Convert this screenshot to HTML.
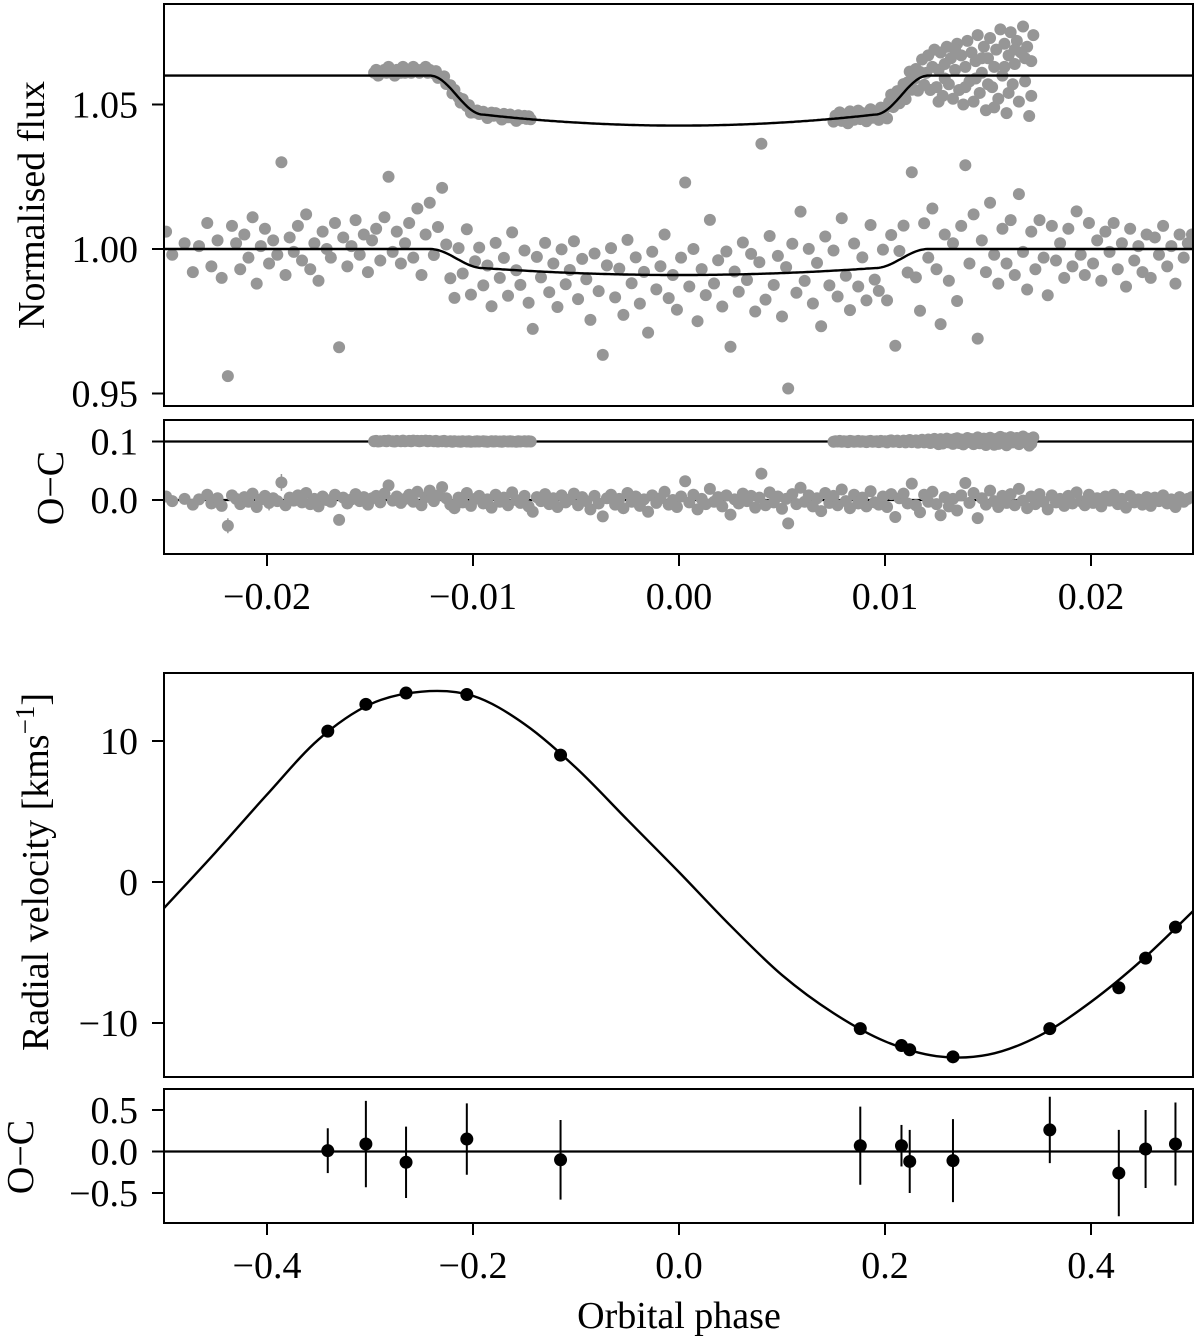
<!DOCTYPE html>
<html><head><meta charset="utf-8"><style>
html,body{margin:0;padding:0;background:#fff;}
svg{display:block;font-family:"Liberation Serif",serif;}
</style></head><body>
<svg id="fig" width="1200" height="1344" viewBox="0 0 1200 1344" xmlns="http://www.w3.org/2000/svg">
<defs>
<clipPath id="cA"><rect x="164" y="4" width="1029" height="402"/></clipPath>
<clipPath id="cB"><rect x="164" y="420" width="1029" height="134"/></clipPath>
<clipPath id="cC"><rect x="164" y="673" width="1029" height="404"/></clipPath>
<clipPath id="cD"><rect x="164" y="1089" width="1029" height="134"/></clipPath>
</defs>
<g id="gA" clip-path="url(#cA)"></g>
<g id="gB" clip-path="url(#cB)"></g>
<g id="gC" clip-path="url(#cC)"></g>
<g id="gD" clip-path="url(#cD)"></g>
<g id="axes"></g>
<text transform="translate(44,205) rotate(-90)" text-anchor="middle" font-size="38">Normalised flux</text>
<text transform="translate(63,488) rotate(-90)" text-anchor="middle" font-size="38">O−C</text>
<text transform="translate(48,872) rotate(-90)" text-anchor="middle" font-size="38">Radial velocity [kms<tspan dy="-14" font-size="27">−1</tspan><tspan dy="14">]</tspan></text>
<text transform="translate(33,1157) rotate(-90)" text-anchor="middle" font-size="38">O−C</text>
<text x="679" y="1328" text-anchor="middle" font-size="38">Orbital phase</text>
</svg>
<script>
const hiSeg1 = [[-148,1],[-147,2],[-146,0],[-145,1],[-143,2],[-142,1],[-141,3],[-139,1],[-138,0],[-137,2],[-135,1],[-134,3],[-133,1],[-131,2],[-130,1],[-129,3],[-127,2],[-126,1],[-125,2],[-123,3],[-122,1],[-121,2],[-119,1],[-118,2],[-117,0],[-115,1],[-114,2],[-113,0],[-111,1],[-110,-1],[-109,1],[-107,0],[-106,-1],[-105,1],[-103,0],[-102,1],[-101,-1],[-99,0],[-98,1],[-97,0],[-95,1],[-94,0],[-93,-1],[-91,1],[-90,0],[-89,1],[-87,0],[-86,-1],[-85,1],[-83,0],[-82,1],[-81,0],[-79,-1],[-78,1],[-77,0],[-75,1],[-74,0],[-73,1],[-72,0]];
const hiSeg2 = [[75,-1],[76,1],[77,0],[78,2],[79,-1],[80,1],[81,0],[82,-2],[83,2],[84,1],[85,-1],[86,0],[87,2],[88,-1],[89,1],[90,0],[91,-2],[92,1],[93,2],[94,-1],[95,0],[96,1],[97,-2],[98,2],[99,0],[100,1],[101,-3],[102,2],[103,4],[104,-1],[105,1],[106,3],[107,-2],[108,0],[109,3],[110,-3],[111,2],[112,5],[113,-2],[114,1],[115,4],[116,-4],[117,2],[118,6],[119,-3],[120,1],[121,7],[122,-5],[123,3],[124,9],[125,-4],[126,2],[127,8],[128,-7],[129,4],[130,10],[131,-3],[132,6],[133,-8],[134,2],[135,11],[136,-5],[137,7],[138,-10],[139,3],[140,12],[141,-2],[142,8],[143,-9],[144,5],[145,14],[146,-6],[147,1],[148,10],[149,-12],[150,6],[151,13],[152,-4],[153,3],[154,9],[155,-8],[156,16],[157,0],[158,11],[159,-13],[160,7],[161,15],[162,-3],[163,4],[164,12],[165,-9],[166,8],[167,17],[168,-2],[169,10],[170,-14],[171,5],[172,14],[158,3],[144,-1],[134,9],[126,-9],[139,-4],[147,6],[153,-11],[163,9],[168,6],[171,-7],[129,-1],[150,-3],[160,-6]];
const loPoints = [[-249,6,4],[-246,-2,3],[-240,2,5],[-236,-8,3],[-233,1,4],[-229,9,6],[-227,-6,3],[-224,3,4],[-222,-10,5],[-219,-44,8],[-217,8,4],[-215,2,5],[-213,-7,3],[-211,5,4],[-209,-3,6],[-207,11,4],[-205,-12,3],[-203,1,5],[-201,7,4],[-199,-5,8],[-197,3,4],[-195,-2,6],[-193,30,9],[-191,-9,5],[-189,4,3],[-187,-1,4],[-185,8,5],[-183,-4,3],[-181,12,4],[-179,-7,6],[-177,2,3],[-175,-11,4],[-173,6,5],[-171,0,3],[-169,-3,4],[-167,9,5],[-165,-34,4],[-163,4,3],[-161,-6,5],[-159,1,4],[-157,10,6],[-155,-2,4],[-153,5,3],[-151,-8,5],[-149,3,4],[-147,7,3],[-145,-4,5],[-143,11,4],[-141,25,6],[-139,-1,4],[-137,6,5],[-135,-5,3],[-133,2,4],[-131,9,5],[-129,-3,3],[-127,14,6],[-125,-9,4],[-123,5,3],[-121,16,5],[-119,-2,4],[-117,8,3],[-115,22,5],[-113,3,4],[-111,-8,6],[-109,-14,4],[-107,4,5],[-105,-4,3],[-103,12,4],[-101,-10,5],[-99,2,3],[-97,7,4],[-95,-6,5],[-93,1,3],[-91,-13,4],[-89,9,5],[-87,-3,6],[-85,4,3],[-83,-9,4],[-81,13,5],[-79,0,3],[-77,-5,4],[-75,7,5],[-73,-11,3],[-71,-20,4],[-69,5,5],[-67,-2,3],[-65,10,4],[-63,-7,5],[-61,3,6],[-59,-12,4],[-57,8,3],[-55,-4,4],[-53,1,5],[-51,11,3],[-49,-9,4],[-47,5,5],[-45,-2,3],[-43,-16,4],[-41,7,5],[-39,-6,6],[-37,-28,4],[-35,3,3],[-33,9,5],[-31,-8,4],[-29,2,3],[-27,-14,5],[-25,12,4],[-23,-3,3],[-21,6,5],[-19,-10,4],[-17,1,3],[-15,-20,6],[-13,8,4],[-11,-5,5],[-9,3,3],[-7,14,4],[-5,-8,5],[-3,0,3],[-1,-12,4],[1,6,5],[3,32,4],[5,-4,3],[7,9,5],[9,-16,4],[11,2,3],[13,-7,5],[15,19,4],[17,-3,3],[19,5,5],[21,-11,4],[23,8,6],[25,-25,4],[27,1,3],[29,-6,5],[31,11,4],[33,-2,3],[35,7,5],[37,-13,4],[39,4,3],[40,45,6],[42,-9,5],[44,13,4],[46,-4,3],[48,6,5],[50,-15,4],[52,2,3],[53,-40,5],[55,10,4],[57,-7,3],[59,21,6],[61,-3,4],[63,8,5],[65,-11,3],[67,3,4],[69,-19,5],[71,12,4],[73,-5,3],[75,7,5],[77,-9,4],[79,18,3],[81,-2,5],[83,-14,4],[85,9,3],[87,-6,5],[89,4,4],[91,-11,3],[93,15,5],[95,-4,4],[97,-8,6],[99,6,3],[101,-12,4],[103,10,5],[105,-29,4],[107,3,3],[109,11,5],[111,-6,4],[113,28,6],[115,-9,4],[117,-21,5],[119,9,3],[121,-3,4],[123,14,5],[125,-7,3],[127,-26,4],[129,5,5],[131,-11,4],[133,2,3],[135,-18,5],[137,8,4],[139,29,6],[141,-5,3],[143,12,4],[145,-31,5],[147,3,3],[149,-8,4],[151,16,5],[153,-2,3],[155,-12,4],[157,7,5],[159,-5,3],[161,10,4],[163,-9,5],[165,19,4],[167,-1,3],[169,-14,5],[171,6,4],[173,-7,3],[175,10,5],[177,-3,4],[179,-16,3],[181,8,5],[183,-4,4],[185,2,3],[187,-10,5],[189,7,4],[191,-6,3],[193,13,5],[195,-2,4],[197,-9,3],[199,9,5],[201,-5,4],[203,3,3],[205,-11,5],[207,6,4],[209,-1,3],[211,9,5],[213,-7,4],[215,2,3],[217,-13,5],[219,7,4],[221,-4,3],[223,1,5],[225,-8,4],[227,5,3],[229,-10,5],[231,4,4],[233,-2,3],[235,8,5],[237,-6,4],[239,1,3],[241,-12,5],[243,5,4],[245,-3,3],[247,2,5],[249,5,4]];
const hiModel = [1.06, 0.0173, 0.0135, 0.0095, 0.0121];
const loModel = [1.00, 0.0090, 0.0066, 0.0095, 0.0121];
const ocOffsets = [0.1, 0.0];
const lcYTicks = [1.05, 1.00, 0.95];
const lcYLabels = ["1.05", "1.00", "0.95"];
const ocYTicks = [0.1, 0.0];
const ocYLabels = ["0.1", "0.0"];
const lcXTicks = [-0.02, -0.01, 0, 0.01, 0.02];
const lcXLabels = ["−0.02", "−0.01", "0.00", "0.01", "0.02"];
const rvPhase = [-0.341,-0.304,-0.265,-0.206,-0.115,0.176,0.216,0.224,0.266,0.360,0.427,0.453,0.482];
const rvValue = [10.7,12.6,13.4,13.3,9.0,-10.4,-11.6,-11.9,-12.4,-10.4,-7.5,-5.4,-3.2];
const rvOC = [0.01,0.09,-0.13,0.15,-0.10,0.07,0.07,-0.12,-0.11,0.26,-0.26,0.03,0.09];
const rvErr = [0.27,0.52,0.43,0.43,0.48,0.47,0.25,0.38,0.50,0.40,0.52,0.47,0.50];
const modelPhase = [-0.5,-0.45,-0.4,-0.35,-0.3,-0.25,-0.2,-0.15,-0.1,-0.05,0,0.05,0.1,0.15,0.2,0.25,0.3,0.35,0.4,0.45,0.5];
const modelRV = [-1.85,2.1,6.2,10.1,12.6,13.5,13.2,11.2,8.1,4.4,0.7,-3.1,-6.6,-9.3,-11.3,-12.35,-12.25,-10.9,-8.5,-5.5,-2.0];
const rvYTicks = [10, 0, -10];
const rvYLabels = ["10", "0", "−10"];
const rvOCTicks = [0.5, 0, -0.5];
const rvOCLabels = ["0.5", "0.0", "−0.5"];
const rvXTicks = [-0.4, -0.2, 0, 0.2, 0.4];
const rvXLabels = ["−0.4", "−0.2", "0.0", "0.2", "0.4"];

const NS = "http://www.w3.org/2000/svg";
const L = 164, R = 1193;
const xLC = p => 679 + p * 20600;
const yA = f => 249 - (f - 1.0) * 2890;
const yB = v => 500 - v * 585;
const xRV = p => 679 + p * 1030;
const yC = v => 882 - v * 14.1;
const yD = v => 1151.5 - v * 83;

function mk(tag, attrs, parent) {
  const e = document.createElementNS(NS, tag);
  for (const k in attrs) e.setAttribute(k, attrs[k]);
  parent.appendChild(e);
  return e;
}
function transit(m, x) {
  const a = Math.abs(x);
  if (a >= m[4]) return m[0];
  if (a >= m[3]) { const t = (a - m[3]) / (m[4] - m[3]); return m[0] - m[2] * 0.5 * (1 + Math.cos(Math.PI * t)); }
  const u = a / m[3];
  return m[0] - (m[1] - (m[1] - m[2]) * u * u);
}
const gA = document.getElementById('gA'), gB = document.getElementById('gB');
const gC = document.getElementById('gC'), gD = document.getElementById('gD');
const ax = document.getElementById('axes');
const GRAY = "#969696";

ocOffsets.forEach(o => {
  const l = mk('line', {x1: L, x2: R, y1: yB(o), y2: yB(o), stroke: '#000', 'stroke-width': 2.2}, gB);
  
  
});
loPoints.forEach(p => {
  const x = p[0] / 1e4, r = p[1] / 1000, e = p[2] * 1.6 / 1000;
  const f = transit(loModel, x) + r;
  const c = mk('circle', {cx: xLC(x), cy: yA(f), r: 6, fill: GRAY}, gA);
  
  
  const eb = mk('line', {x1: xLC(x), x2: xLC(x), y1: yB(r - e), y2: yB(r + e), stroke: GRAY, 'stroke-width': 1.5}, gB);
  
  
  const c2 = mk('circle', {cx: xLC(x), cy: yB(r), r: 6, fill: GRAY}, gB);
  
  
});
hiSeg1.concat(hiSeg2).forEach(p => {
  const x = p[0] / 1e4, r = p[1] / 1000;
  const f = transit(hiModel, x) + r;
  const c = mk('circle', {cx: xLC(x), cy: yA(f), r: 6, fill: GRAY}, gA);
  
  
  const c2 = mk('circle', {cx: xLC(x), cy: yB(0.1 + r * 0.5), r: 6, fill: GRAY}, gB);
  
  
});
[hiModel, loModel].forEach((m, i) => {
  let d = '';
  for (let k = 0; k <= 600; k++) {
    const x = -0.026 + k * 0.052 / 600;
    d += (k ? 'L' : 'M') + xLC(x).toFixed(1) + ',' + yA(transit(m, x)).toFixed(1);
  }
  const p = mk('path', {d: d, fill: 'none', stroke: '#000', 'stroke-width': 2.4}, gA);
  
  
});

(function () {
  const pts = modelPhase.map((p, i) => [xRV(p), yC(modelRV[i])]);
  let d = 'M' + pts[0][0] + ',' + pts[0][1];
  for (let i = 0; i < pts.length - 1; i++) {
    const p0 = pts[Math.max(0, i - 1)], p1 = pts[i], p2 = pts[i + 1], p3 = pts[Math.min(pts.length - 1, i + 2)];
    const c1 = [p1[0] + (p2[0] - p0[0]) / 6, p1[1] + (p2[1] - p0[1]) / 6];
    const c2 = [p2[0] - (p3[0] - p1[0]) / 6, p2[1] - (p3[1] - p1[1]) / 6];
    d += 'C' + c1.join(',') + ' ' + c2.join(',') + ' ' + p2.join(',');
  }
  const p = mk('path', {d: d, fill: 'none', stroke: '#000', 'stroke-width': 2.4}, gC);
  
  
})();
const zl = mk('line', {x1: L, x2: R, y1: yD(0), y2: yD(0), stroke: '#000', 'stroke-width': 2.2}, gD);


rvPhase.forEach((p, i) => {
  const c = mk('circle', {cx: xRV(p), cy: yC(rvValue[i]), r: 6.5, fill: '#000'}, gC);
  
  
  const eb = mk('line', {x1: xRV(p), x2: xRV(p), y1: yD(rvOC[i] - rvErr[i]), y2: yD(rvOC[i] + rvErr[i]), stroke: '#000', 'stroke-width': 2}, gD);
  
  
  const c2 = mk('circle', {cx: xRV(p), cy: yD(rvOC[i]), r: 6.5, fill: '#000'}, gD);
  
  
});

function frame(y0, y1, name) {
  const r = mk('rect', {x: L, y: y0, width: R - L, height: y1 - y0, fill: 'none', stroke: '#000', 'stroke-width': 2}, ax);
  
  
}
frame(4, 406, 'flux-panel-frame');
frame(420, 554, 'lc-oc-panel-frame');
frame(673, 1077, 'rv-panel-frame');
frame(1089, 1223, 'rv-oc-panel-frame');
function yticks(vals, labels, fy, name) {
  vals.forEach((v, i) => {
    const y = fy(v);
    const t = mk('line', {x1: L - 12, x2: L, y1: y, y2: y, stroke: '#000', 'stroke-width': 2}, ax);
    
    
    const tx = mk('text', {x: L - 26, y: y + 13, 'text-anchor': 'end', 'font-size': 38}, ax);
    tx.textContent = labels[i];
    
    
  });
}
function xticks(vals, labels, fx, yb, name) {
  vals.forEach((v, i) => {
    const x = fx(v);
    const t = mk('line', {x1: x, x2: x, y1: yb, y2: yb + 12, stroke: '#000', 'stroke-width': 2}, ax);
    
    
    const tx = mk('text', {x: x, y: yb + 55, 'text-anchor': 'middle', 'font-size': 38}, ax);
    tx.textContent = labels[i];
    
    
  });
}
yticks(lcYTicks, lcYLabels, yA, 'flux-y');
yticks(ocYTicks, ocYLabels, yB, 'lc-oc-y');
yticks(rvYTicks, rvYLabels, yC, 'rv-y');
yticks(rvOCTicks, rvOCLabels, yD, 'rv-oc-y');
xticks(lcXTicks, lcXLabels, xLC, 554, 'lc-x');
xticks(rvXTicks, rvXLabels, xRV, 1223, 'rv-x');
</script>
</body></html>
